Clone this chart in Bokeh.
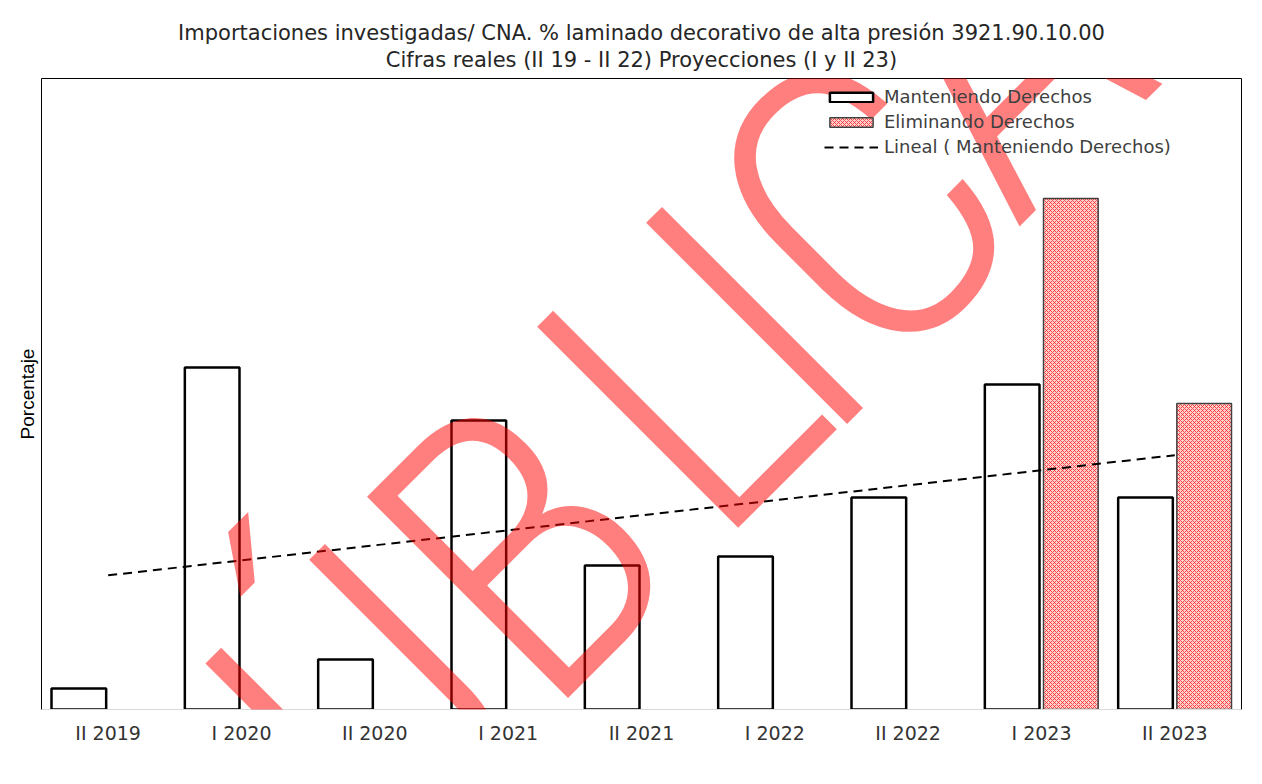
import numpy as np
from bokeh.plotting import figure
from bokeh.core.properties import value
from bokeh.models import (Range1d, FixedTicker, Legend, LegendItem, LabelSet, Title,
                          ColumnDataSource)
from bokeh.embed import file_html
from bokeh.resources import INLINE

# ---------------- data ----------------
periods = ["II 2019", "I 2020", "II 2020", "I 2021", "II 2021",
           "I 2022", "II 2022", "I 2023", "II 2023"]
manteniendo = [2.1, 34.2, 5.0, 28.9, 14.4, 15.3, 21.2, 32.5, 21.2]
eliminando = [None, None, None, None, None, None, None, 51.1, 30.6]

title_line1 = "Importaciones investigadas/ CNA. % laminado decorativo de alta presión 3921.90.10.00"
title_line2 = "Cifras reales (II 19 - II 22) Proyecciones (I y II 23)"
y_label = "Porcentaje"
series_names = ["Manteniendo Derechos", "Eliminando Derechos",
                "Lineal ( Manteniendo Derechos)"]
watermark = "PÚBLICA"

# watermark letter placement (screen pixels from the plot frame's lower-left)
wm_x = [176, 328, 482, 642, 717, 823, 953]
wm_y = [-151, 1, 160, 320, 390, 500, 651]

# ---------------- figure ----------------
n = len(periods)
p = figure(width=1262, height=784, output_backend="svg", toolbar_location=None,
           x_range=Range1d(-0.5, n - 0.5), y_range=Range1d(0, 63.1),
           min_border_left=41, min_border_right=21, min_border_top=78,
           min_border_bottom=75)
p.xgrid.visible = False
p.ygrid.visible = False
p.outline_line_color = "black"
p.outline_line_width = 1
p.background_fill_color = "white"
p.border_fill_color = "white"
p.styles = {"outline": "1px solid #d4d4d4", "outline-offset": "-10px"}

# x axis
p.xaxis.ticker = FixedTicker(ticks=list(range(n)))
p.xaxis.major_label_overrides = {i: lab for i, lab in enumerate(periods)}
p.xaxis.axis_line_color = "#d9d9d9"
p.xaxis.major_tick_out = 0
p.xaxis.major_tick_in = 0
p.xaxis.minor_tick_out = 0
p.xaxis.minor_tick_in = 0
p.xaxis.major_label_standoff = 12
p.xaxis.major_label_text_font = "DejaVu Sans"
p.xaxis.major_label_text_font_size = "19px"
p.xaxis.major_label_text_color = "#333333"

# y axis
p.yaxis.ticker = FixedTicker(ticks=[])
p.yaxis.axis_line_color = None
p.yaxis.major_tick_out = 0
p.yaxis.minor_tick_out = 0
p.yaxis.axis_label = y_label
p.yaxis.axis_label_text_font = "Liberation Sans"
p.yaxis.axis_label_text_font_size = "19px"
p.yaxis.axis_label_text_font_style = "normal"
p.yaxis.axis_label_text_color = "black"
p.yaxis.axis_label_standoff = 4

# bars
src_m = ColumnDataSource(dict(x=[i - 0.22 for i in range(n)], top=manteniendo))
r_m = p.vbar(x="x", top="top", width=0.41, source=src_m, fill_color="white",
             line_color="black", line_width=2.5)

idx = [i for i, v in enumerate(eliminando) if v is not None]
src_e = ColumnDataSource(dict(x=[i + 0.22 for i in idx],
                              top=[eliminando[i] for i in idx]))
r_e = p.vbar(x="x", top="top", width=0.41, source=src_e, fill_color="#ffd2d2",
             hatch_pattern="diagonal_cross", hatch_color="#ff2020",
             hatch_scale=4, hatch_weight=0.8, line_color="#404040", line_width=1.5)

# linear trend of the "Manteniendo" series
xs = np.arange(n)
slope, intercept = np.polyfit(xs, np.array(manteniendo, dtype=float), 1)
tx = [0, n - 1]
ty = [intercept + slope * t for t in tx]
r_t = p.line(x=tx, y=ty, line_dash="9 6", line_width=2, line_color="black")

# legend
legend = Legend(items=[LegendItem(label=series_names[0], renderers=[r_m]),
                       LegendItem(label=series_names[1], renderers=[r_e]),
                       LegendItem(label=series_names[2], renderers=[r_t])],
                location=(783, 552), orientation="vertical",
                background_fill_alpha=0, border_line_color=None, padding=0,
                spacing=4, glyph_width=54, glyph_height=12, label_height=21,
                label_standoff=6, label_text_font="DejaVu Sans",
                label_text_font_size="18px", label_text_color="#404040")
p.add_layout(legend)

# titles
p.add_layout(Title(text=title_line2, align="center", text_font="DejaVu Sans",
                   text_font_size="21px", text_font_style="normal",
                   text_color="#262626", standoff=13), "above")
p.add_layout(Title(text=title_line1, align="center", text_font="DejaVu Sans",
                   text_font_size="21px", text_font_style="normal",
                   text_color="#262626", standoff=-10), "above")

# watermark
wm_src = ColumnDataSource(dict(x=wm_x, y=wm_y, t=list(watermark)))
wm = LabelSet(x="x", y="y", text="t", source=wm_src, x_units="screen",
              y_units="screen", angle=0.785, text_align="center",
              text_baseline="middle",
              text_font=value("'Roboto Condensed Light', 'Lato Light', sans-serif"),
              text_font_size=value("400px"), text_color="red", text_alpha=0.5,
              level="overlay")
p.add_layout(wm)

open("out.html", "w").write(file_html(p, INLINE))
